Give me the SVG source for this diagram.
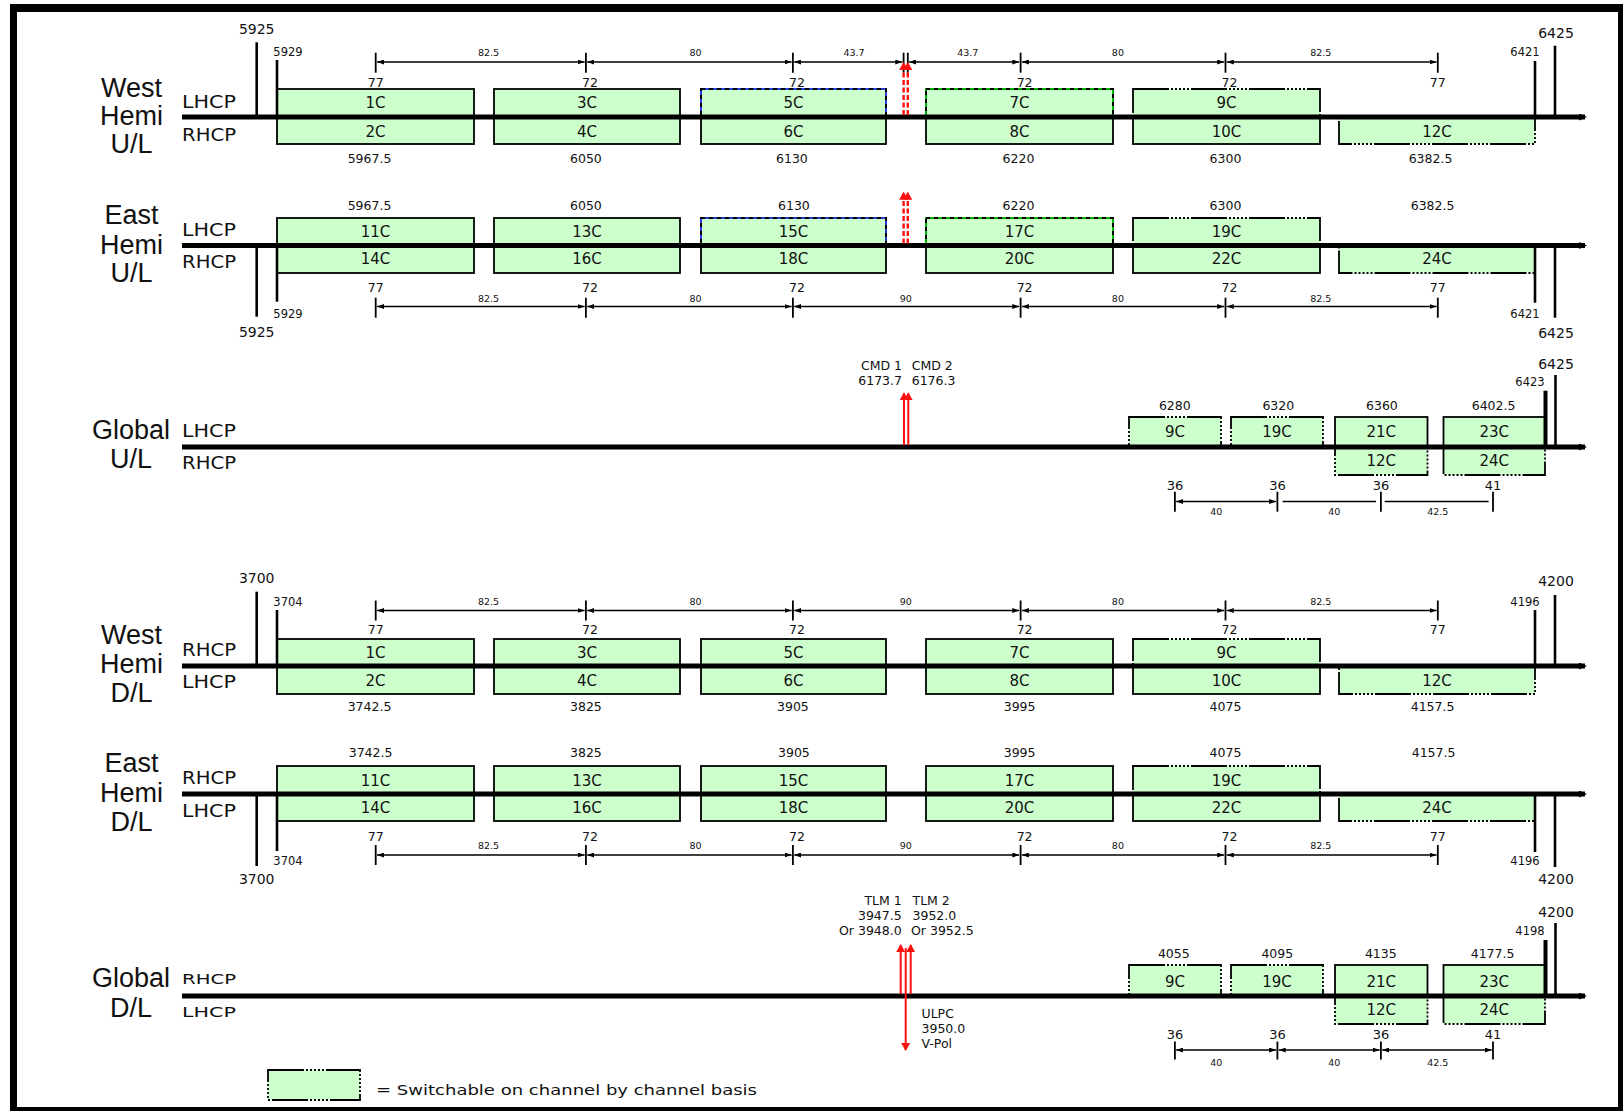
<svg xmlns="http://www.w3.org/2000/svg" width="1623" height="1111" viewBox="0 0 1623 1111">
<style>
.ch{fill:#ccffcc;stroke:#000;stroke-width:1.8}
.sw{fill:#ccffcc;stroke:#000;stroke-width:1.8;stroke-dasharray:36 2 2 2 2 2 2 2 2 2 2 2}
.bl{fill:#ccffcc;stroke:#2a3ad8;stroke-width:2}
.gn{fill:#ccffcc;stroke:#00b000;stroke-width:2}
.dsh{fill:none;stroke:#000;stroke-width:2;stroke-dasharray:4 4}
.axis{stroke:#000;stroke-width:5}
.tk{stroke:#000;stroke-width:2.6}
.tkb{stroke:#000;stroke-width:4}
.dim{stroke:#000;stroke-width:1.3}
.dt{stroke:#000;stroke-width:1.8}
.red{stroke:#ff1010;stroke-width:2}
.redd{stroke:#ff1010;stroke-width:2.4;stroke-dasharray:5 2.5}
text{font-family:"DejaVu Sans",Verdana,sans-serif;fill:#111;text-anchor:middle}
.big{font-family:"Liberation Sans",Arial,sans-serif;font-size:27px}
.pol{font-size:17px;text-anchor:start}
.pols{font-size:14px;text-anchor:start}
.cl{font-size:15px}
.fq{font-size:12.5px}
.n7{font-size:12.5px}
.dl{font-size:9.5px}
.e1{font-size:14px}
.e2{font-size:11.5px}
.g36{font-size:13px}
.cmd{font-size:12.5px}
.st{text-anchor:start}
.en{text-anchor:end}
</style>
<defs>
<marker id="ah" viewBox="0 0 7 5" refX="7" refY="2.5" markerWidth="7" markerHeight="5" markerUnits="userSpaceOnUse" orient="auto-start-reverse"><path d="M0,0 L7,2.5 L0,5 z" fill="#000"/></marker>
<marker id="ax" viewBox="0 0 8 7" refX="6" refY="3.5" markerWidth="8" markerHeight="7" markerUnits="userSpaceOnUse" orient="auto"><path d="M0,0 L8,3.5 L0,7 z" fill="#000"/></marker>
<marker id="ra" viewBox="0 0 8 9" refX="7" refY="4.5" markerWidth="8" markerHeight="9" markerUnits="userSpaceOnUse" orient="auto"><path d="M0,0 L8,4.5 L0,9 z" fill="#ff1010"/></marker>
</defs>
<rect x="0" y="0" width="1623" height="1111" fill="#fff"/>
<g id="frame">
<line x1="10" y1="8" x2="1623" y2="8" stroke="#000" stroke-width="8"/>
<line x1="13.5" y1="4" x2="13.5" y2="1111" stroke="#000" stroke-width="7"/>
<line x1="1620.5" y1="4" x2="1620.5" y2="1111" stroke="#000" stroke-width="5"/>
<line x1="10" y1="1109" x2="1623" y2="1109" stroke="#000" stroke-width="4"/>
</g>

<!-- ===== Section 1: West Hemi U/L ===== -->
<g id="sec-west-ul">
<text class="big" x="131.5" y="96.7">West</text>
<text class="big" x="131.5" y="124.7">Hemi</text>
<text class="big" x="131.5" y="152.5">U/L</text>
<text class="pol" x="182" y="108.4" textLength="54" lengthAdjust="spacingAndGlyphs">LHCP</text>
<text class="pol" x="182" y="140.5" textLength="54" lengthAdjust="spacingAndGlyphs">RHCP</text>
<g id="n-wul-1C"><rect class="ch" x="277" y="89" width="197" height="28"/><text class="cl" x="375.5" y="108.3">1C</text></g>
<g id="n-wul-2C"><rect class="ch" x="277" y="117" width="197" height="27"/><text class="cl" x="375.5" y="136.5">2C</text></g>
<g id="n-wul-3C"><rect class="ch" x="494" y="89" width="186" height="28"/><text class="cl" x="587" y="108.3">3C</text></g>
<g id="n-wul-4C"><rect class="ch" x="494" y="117" width="186" height="27"/><text class="cl" x="587" y="136.5">4C</text></g>
<g id="n-wul-5C"><rect class="bl" x="701" y="89" width="185" height="28"/><rect class="dsh" x="701" y="89" width="185" height="28"/><text class="cl" x="793.5" y="108.3">5C</text></g>
<g id="n-wul-6C"><rect class="ch" x="701" y="117" width="185" height="27"/><text class="cl" x="793.5" y="136.5">6C</text></g>
<g id="n-wul-7C"><rect class="gn" x="926" y="89" width="187" height="28"/><rect class="dsh" x="926" y="89" width="187" height="28"/><text class="cl" x="1019.5" y="108.3">7C</text></g>
<g id="n-wul-8C"><rect class="ch" x="926" y="117" width="187" height="27"/><text class="cl" x="1019.5" y="136.5">8C</text></g>
<g id="n-wul-9C"><rect class="sw" x="1133" y="89" width="187" height="28"/><text class="cl" x="1226.5" y="108.3">9C</text></g>
<g id="n-wul-10C"><rect class="ch" x="1133" y="117" width="187" height="27"/><text class="cl" x="1226.5" y="136.5">10C</text></g>
<g id="n-wul-12C"><rect class="sw" x="1339" y="117" width="196" height="27"/><text class="cl" x="1437" y="136.5">12C</text></g>
<text class="n7" x="375.7" y="86.5">77</text><text class="n7" x="590" y="86.5">72</text><text class="n7" x="797" y="86.5">72</text><text class="n7" x="1024.6" y="86.5">72</text><text class="n7" x="1229.5" y="86.5">72</text><text class="n7" x="1437.8" y="86.5">77</text>
<text class="fq" x="369.5" y="163">5967.5</text><text class="fq" x="585.9" y="163">6050</text><text class="fq" x="791.9" y="163">6130</text><text class="fq" x="1018.5" y="163">6220</text><text class="fq" x="1225.5" y="163">6300</text><text class="fq" x="1430.5" y="163">6382.5</text>
<text class="dl" x="488.6" y="56">82.5</text><text class="dl" x="695.6" y="56">80</text><text class="dl" x="854" y="56">43.7</text><text class="dl" x="967.8" y="56">43.7</text><text class="dl" x="1117.9" y="56">80</text><text class="dl" x="1320.8" y="56">82.5</text>
<text class="e1" x="256.7" y="34">5925</text><text class="e2" x="288" y="55.5">5929</text><text class="e2" x="1525" y="55.5">6421</text><text class="e1" x="1556" y="38">6425</text>
</g>

<!-- ===== Section 2: East Hemi U/L ===== -->
<g id="sec-east-ul">
<text class="big" x="131.5" y="223.7">East</text>
<text class="big" x="131.5" y="254">Hemi</text>
<text class="big" x="131.5" y="282">U/L</text>
<text class="pol" x="182" y="235.7" textLength="54" lengthAdjust="spacingAndGlyphs">LHCP</text>
<text class="pol" x="182" y="267.8" textLength="54" lengthAdjust="spacingAndGlyphs">RHCP</text>
<g id="n-eul-11C"><rect class="ch" x="277" y="218" width="197" height="27.5"/><text class="cl" x="375.5" y="236.8">11C</text></g>
<g id="n-eul-14C"><rect class="ch" x="277" y="245.5" width="197" height="27.5"/><text class="cl" x="375.5" y="264.3">14C</text></g>
<g id="n-eul-13C"><rect class="ch" x="494" y="218" width="186" height="27.5"/><text class="cl" x="587" y="236.8">13C</text></g>
<g id="n-eul-16C"><rect class="ch" x="494" y="245.5" width="186" height="27.5"/><text class="cl" x="587" y="264.3">16C</text></g>
<g id="n-eul-15C"><rect class="bl" x="701" y="218" width="185" height="27.5"/><rect class="dsh" x="701" y="218" width="185" height="27.5"/><text class="cl" x="793.5" y="236.8">15C</text></g>
<g id="n-eul-18C"><rect class="ch" x="701" y="245.5" width="185" height="27.5"/><text class="cl" x="793.5" y="264.3">18C</text></g>
<g id="n-eul-17C"><rect class="gn" x="926" y="218" width="187" height="27.5"/><rect class="dsh" x="926" y="218" width="187" height="27.5"/><text class="cl" x="1019.5" y="236.8">17C</text></g>
<g id="n-eul-20C"><rect class="ch" x="926" y="245.5" width="187" height="27.5"/><text class="cl" x="1019.5" y="264.3">20C</text></g>
<g id="n-eul-19C"><rect class="sw" x="1133" y="218" width="187" height="27.5"/><text class="cl" x="1226.5" y="236.8">19C</text></g>
<g id="n-eul-22C"><rect class="ch" x="1133" y="245.5" width="187" height="27.5"/><text class="cl" x="1226.5" y="264.3">22C</text></g>
<g id="n-eul-24C"><rect class="sw" x="1339" y="245.5" width="196" height="27.5"/><text class="cl" x="1437" y="264.3">24C</text></g>
<text class="fq" x="369.5" y="210">5967.5</text><text class="fq" x="585.9" y="210">6050</text><text class="fq" x="793.9" y="210">6130</text><text class="fq" x="1018.5" y="210">6220</text><text class="fq" x="1225.5" y="210">6300</text><text class="fq" x="1432.6" y="210">6382.5</text>
<text class="n7" x="375.7" y="291.5">77</text><text class="n7" x="590" y="291.5">72</text><text class="n7" x="797" y="291.5">72</text><text class="n7" x="1024.6" y="291.5">72</text><text class="n7" x="1229.5" y="291.5">72</text><text class="n7" x="1437.8" y="291.5">77</text>
<text class="dl" x="488.6" y="301.5">82.5</text><text class="dl" x="695.6" y="301.5">80</text><text class="dl" x="905.7" y="301.5">90</text><text class="dl" x="1117.9" y="301.5">80</text><text class="dl" x="1320.8" y="301.5">82.5</text>
<text class="e2" x="288" y="318">5929</text><text class="e1" x="256.7" y="337">5925</text><text class="e2" x="1525" y="318">6421</text><text class="e1" x="1556" y="337.5">6425</text>
</g>

<!-- ===== Section 3: Global U/L ===== -->
<g id="sec-global-ul">
<text class="big" x="131" y="439.3">Global</text>
<text class="big" x="131" y="468.3">U/L</text>
<text class="pol" x="182" y="436.5" textLength="54" lengthAdjust="spacingAndGlyphs">LHCP</text>
<text class="pol" x="182" y="468.6" textLength="54" lengthAdjust="spacingAndGlyphs">RHCP</text>
<g id="n-gul-9C"><rect class="sw" x="1129" y="417" width="92" height="30"/><text class="cl" x="1175" y="437">9C</text></g>
<g id="n-gul-19C"><rect class="sw" x="1231" y="417" width="92" height="30"/><text class="cl" x="1277" y="437">19C</text></g>
<g id="n-gul-21C"><rect class="ch" x="1335" y="417" width="92.5" height="30"/><text class="cl" x="1381.2" y="437">21C</text></g>
<g id="n-gul-12C"><rect class="sw" x="1335" y="447" width="92.5" height="28"/><text class="cl" x="1381.2" y="465.5">12C</text></g>
<g id="n-gul-23C"><rect class="ch" x="1443.5" y="417" width="101.5" height="30"/><text class="cl" x="1494.2" y="437">23C</text></g>
<g id="n-gul-24C"><rect class="sw" x="1443.5" y="447" width="101.5" height="28"/><text class="cl" x="1494.2" y="465.5">24C</text></g>
<text class="fq" x="1174.8" y="410">6280</text><text class="fq" x="1278.3" y="410">6320</text><text class="fq" x="1381.9" y="410">6360</text><text class="fq" x="1493.6" y="410">6402.5</text>
<text class="g36" x="1174.9" y="490">36</text><text class="g36" x="1277.4" y="490">36</text><text class="g36" x="1380.9" y="490">36</text><text class="g36" x="1493" y="490">41</text>
<text class="dl" x="1216.2" y="515">40</text><text class="dl" x="1334.2" y="515">40</text><text class="dl" x="1437.8" y="515">42.5</text>
<text class="e1" x="1556" y="369">6425</text><text class="e2" x="1530" y="385.5">6423</text>
<text class="cmd en" x="902" y="370">CMD 1</text><text class="cmd st" x="911.7" y="370">CMD 2</text>
<text class="cmd en" x="902" y="385">6173.7</text><text class="cmd st" x="911.7" y="385">6176.3</text>
</g>

<!-- ===== Section 4: West Hemi D/L ===== -->
<g id="sec-west-dl">
<text class="big" x="131.5" y="644.2">West</text>
<text class="big" x="131.5" y="673.2">Hemi</text>
<text class="big" x="131.5" y="702.2">D/L</text>
<text class="pol" x="182" y="656" textLength="54" lengthAdjust="spacingAndGlyphs">RHCP</text>
<text class="pol" x="182" y="688" textLength="54" lengthAdjust="spacingAndGlyphs">LHCP</text>
<g id="n-wdl-1C"><rect class="ch" x="277" y="639" width="197" height="27"/><text class="cl" x="375.5" y="658">1C</text></g>
<g id="n-wdl-2C"><rect class="ch" x="277" y="666" width="197" height="28"/><text class="cl" x="375.5" y="685.5">2C</text></g>
<g id="n-wdl-3C"><rect class="ch" x="494" y="639" width="186" height="27"/><text class="cl" x="587" y="658">3C</text></g>
<g id="n-wdl-4C"><rect class="ch" x="494" y="666" width="186" height="28"/><text class="cl" x="587" y="685.5">4C</text></g>
<g id="n-wdl-5C"><rect class="ch" x="701" y="639" width="185" height="27"/><text class="cl" x="793.5" y="658">5C</text></g>
<g id="n-wdl-6C"><rect class="ch" x="701" y="666" width="185" height="28"/><text class="cl" x="793.5" y="685.5">6C</text></g>
<g id="n-wdl-7C"><rect class="ch" x="926" y="639" width="187" height="27"/><text class="cl" x="1019.5" y="658">7C</text></g>
<g id="n-wdl-8C"><rect class="ch" x="926" y="666" width="187" height="28"/><text class="cl" x="1019.5" y="685.5">8C</text></g>
<g id="n-wdl-9C"><rect class="sw" x="1133" y="639" width="187" height="27"/><text class="cl" x="1226.5" y="658">9C</text></g>
<g id="n-wdl-10C"><rect class="ch" x="1133" y="666" width="187" height="28"/><text class="cl" x="1226.5" y="685.5">10C</text></g>
<g id="n-wdl-12C"><rect class="sw" x="1339" y="666" width="196" height="28"/><text class="cl" x="1437" y="685.5">12C</text></g>
<text class="n7" x="375.7" y="634">77</text><text class="n7" x="590" y="634">72</text><text class="n7" x="797" y="634">72</text><text class="n7" x="1024.6" y="634">72</text><text class="n7" x="1229.5" y="634">72</text><text class="n7" x="1437.8" y="634">77</text>
<text class="fq" x="369.5" y="710.5">3742.5</text><text class="fq" x="585.9" y="710.5">3825</text><text class="fq" x="792.9" y="710.5">3905</text><text class="fq" x="1019.6" y="710.5">3995</text><text class="fq" x="1225.5" y="710.5">4075</text><text class="fq" x="1432.6" y="710.5">4157.5</text>
<text class="dl" x="488.6" y="605">82.5</text><text class="dl" x="695.6" y="605">80</text><text class="dl" x="905.7" y="605">90</text><text class="dl" x="1117.9" y="605">80</text><text class="dl" x="1320.8" y="605">82.5</text>
<text class="e1" x="256.7" y="582.5">3700</text><text class="e2" x="288" y="606">3704</text><text class="e2" x="1525" y="606">4196</text><text class="e1" x="1556" y="586">4200</text>
</g>

<!-- ===== Section 5: East Hemi D/L ===== -->
<g id="sec-east-dl">
<text class="big" x="131.5" y="771.5">East</text>
<text class="big" x="131.5" y="801.6">Hemi</text>
<text class="big" x="131.5" y="830.5">D/L</text>
<text class="pol" x="182" y="784.3" textLength="54" lengthAdjust="spacingAndGlyphs">RHCP</text>
<text class="pol" x="182" y="817.4" textLength="54" lengthAdjust="spacingAndGlyphs">LHCP</text>
<g id="n-edl-11C"><rect class="ch" x="277" y="766" width="197" height="28"/><text class="cl" x="375.5" y="785.5">11C</text></g>
<g id="n-edl-14C"><rect class="ch" x="277" y="794" width="197" height="27"/><text class="cl" x="375.5" y="813">14C</text></g>
<g id="n-edl-13C"><rect class="ch" x="494" y="766" width="186" height="28"/><text class="cl" x="587" y="785.5">13C</text></g>
<g id="n-edl-16C"><rect class="ch" x="494" y="794" width="186" height="27"/><text class="cl" x="587" y="813">16C</text></g>
<g id="n-edl-15C"><rect class="ch" x="701" y="766" width="185" height="28"/><text class="cl" x="793.5" y="785.5">15C</text></g>
<g id="n-edl-18C"><rect class="ch" x="701" y="794" width="185" height="27"/><text class="cl" x="793.5" y="813">18C</text></g>
<g id="n-edl-17C"><rect class="ch" x="926" y="766" width="187" height="28"/><text class="cl" x="1019.5" y="785.5">17C</text></g>
<g id="n-edl-20C"><rect class="ch" x="926" y="794" width="187" height="27"/><text class="cl" x="1019.5" y="813">20C</text></g>
<g id="n-edl-19C"><rect class="sw" x="1133" y="766" width="187" height="28"/><text class="cl" x="1226.5" y="785.5">19C</text></g>
<g id="n-edl-22C"><rect class="ch" x="1133" y="794" width="187" height="27"/><text class="cl" x="1226.5" y="813">22C</text></g>
<g id="n-edl-24C"><rect class="sw" x="1339" y="794" width="196" height="27"/><text class="cl" x="1437" y="813">24C</text></g>
<text class="fq" x="370.6" y="757">3742.5</text><text class="fq" x="585.9" y="757">3825</text><text class="fq" x="793.9" y="757">3905</text><text class="fq" x="1019.6" y="757">3995</text><text class="fq" x="1225.5" y="757">4075</text><text class="fq" x="1433.6" y="757">4157.5</text>
<text class="n7" x="375.7" y="841">77</text><text class="n7" x="590" y="841">72</text><text class="n7" x="797" y="841">72</text><text class="n7" x="1024.6" y="841">72</text><text class="n7" x="1229.5" y="841">72</text><text class="n7" x="1437.8" y="841">77</text>
<text class="dl" x="488.6" y="848.5">82.5</text><text class="dl" x="695.6" y="848.5">80</text><text class="dl" x="905.7" y="848.5">90</text><text class="dl" x="1117.9" y="848.5">80</text><text class="dl" x="1320.8" y="848.5">82.5</text>
<text class="e2" x="288" y="865">3704</text><text class="e2" x="1525" y="865">4196</text><text class="e1" x="256.7" y="884">3700</text><text class="e1" x="1556" y="884">4200</text>
</g>

<!-- ===== Section 6: Global D/L ===== -->
<g id="sec-global-dl">
<text class="big" x="131" y="986.9">Global</text>
<text class="big" x="131" y="1016.9">D/L</text>
<text class="pols" x="182" y="984.2" textLength="54" lengthAdjust="spacingAndGlyphs">RHCP</text>
<text class="pols" x="182" y="1017.3" textLength="54" lengthAdjust="spacingAndGlyphs">LHCP</text>
<g id="n-gdl-9C"><rect class="sw" x="1129" y="965" width="92" height="31"/><text class="cl" x="1175" y="986.5">9C</text></g>
<g id="n-gdl-19C"><rect class="sw" x="1231" y="965" width="92" height="31"/><text class="cl" x="1277" y="986.5">19C</text></g>
<g id="n-gdl-21C"><rect class="ch" x="1335" y="965" width="92.5" height="31"/><text class="cl" x="1381.2" y="986.5">21C</text></g>
<g id="n-gdl-12C"><rect class="sw" x="1335" y="996" width="92.5" height="28"/><text class="cl" x="1381.2" y="1015">12C</text></g>
<g id="n-gdl-23C"><rect class="ch" x="1443.5" y="965" width="101.5" height="31"/><text class="cl" x="1494.2" y="986.5">23C</text></g>
<g id="n-gdl-24C"><rect class="sw" x="1443.5" y="996" width="101.5" height="28"/><text class="cl" x="1494.2" y="1015">24C</text></g>
<text class="fq" x="1173.8" y="957.5">4055</text><text class="fq" x="1277.3" y="957.5">4095</text><text class="fq" x="1380.8" y="957.5">4135</text><text class="fq" x="1492.6" y="957.5">4177.5</text>
<text class="g36" x="1174.9" y="1039">36</text><text class="g36" x="1277.4" y="1039">36</text><text class="g36" x="1380.9" y="1039">36</text><text class="g36" x="1493" y="1039">41</text>
<text class="dl" x="1216.2" y="1066">40</text><text class="dl" x="1334.2" y="1066">40</text><text class="dl" x="1437.8" y="1066">42.5</text>
<text class="e1" x="1556" y="917">4200</text><text class="e2" x="1530" y="934.5">4198</text>
<text class="cmd en" x="901.7" y="905">TLM 1</text><text class="cmd st" x="912.5" y="905">TLM 2</text>
<text class="cmd en" x="901.7" y="920">3947.5</text><text class="cmd st" x="912.5" y="920">3952.0</text>
<text class="cmd en" x="901.7" y="935">Or 3948.0</text><text class="cmd st" x="911" y="935">Or 3952.5</text>
<text class="cmd st" x="921.5" y="1018">ULPC</text>
<text class="cmd st" x="921.5" y="1033">3950.0</text>
<text class="cmd st" x="921.5" y="1048">V-Pol</text>
</g>

<!-- ===== Legend ===== -->
<g id="legend">
<rect class="sw" x="268" y="1070" width="92" height="30"/>
<text class="st" x="376" y="1095" style="font-size:14.5px" textLength="381" lengthAdjust="spacingAndGlyphs">= Switchable on channel by channel basis</text>
</g>

<!-- ===== Connectors: axes, band-edge ticks, dimension lines, arrows ===== -->
<g id="connectors">
<line class="axis" x1="182" y1="117" x2="1585" y2="117" marker-end="url(#ax)"/>
<line class="axis" x1="182" y1="245.5" x2="1585" y2="245.5" marker-end="url(#ax)"/>
<line class="axis" x1="182" y1="447" x2="1585" y2="447" marker-end="url(#ax)"/>
<line class="axis" x1="182" y1="666" x2="1585" y2="666" marker-end="url(#ax)"/>
<line class="axis" x1="182" y1="794" x2="1585" y2="794" marker-end="url(#ax)"/>
<line class="axis" x1="182" y1="996" x2="1585" y2="996" marker-end="url(#ax)"/>
<line class="tk" x1="256.7" y1="42.3" x2="256.7" y2="117"/>
<line class="tk" x1="277" y1="60" x2="277" y2="117"/>
<line class="tk" x1="1535" y1="61" x2="1535" y2="117"/>
<line class="tk" x1="1555" y1="45.7" x2="1555" y2="117"/>
<line class="tk" x1="256.7" y1="245.5" x2="256.7" y2="316.7"/>
<line class="tk" x1="277" y1="245.5" x2="277" y2="301.7"/>
<line class="tk" x1="1535" y1="245.5" x2="1535" y2="302.7"/>
<line class="tk" x1="1555" y1="245.5" x2="1555" y2="317.7"/>
<line class="tkb" x1="1545.5" y1="390.7" x2="1545.5" y2="447"/>
<line class="tk" x1="1555.5" y1="375" x2="1555.5" y2="447"/>
<line class="tk" x1="256.7" y1="591.7" x2="256.7" y2="666"/>
<line class="tk" x1="277" y1="610" x2="277" y2="666"/>
<line class="tk" x1="1535" y1="610" x2="1535" y2="666"/>
<line class="tk" x1="1555" y1="595" x2="1555" y2="666"/>
<line class="tk" x1="256.7" y1="794" x2="256.7" y2="866"/>
<line class="tk" x1="277" y1="794" x2="277" y2="851"/>
<line class="tk" x1="1535" y1="794" x2="1535" y2="852"/>
<line class="tk" x1="1555" y1="794" x2="1555" y2="867"/>
<line class="tkb" x1="1545.5" y1="940" x2="1545.5" y2="996"/>
<line class="tk" x1="1555.5" y1="923" x2="1555.5" y2="996"/>
<g>
<line class="dt" x1="375.7" y1="52.7" x2="375.7" y2="72.7"/><line class="dt" x1="585.9" y1="52.7" x2="585.9" y2="72.7"/><line class="dt" x1="792.9" y1="52.7" x2="792.9" y2="72.7"/><line class="dt" x1="903.6" y1="52.7" x2="903.6" y2="72.7"/><line class="dt" x1="907.8" y1="52.7" x2="907.8" y2="72.7"/><line class="dt" x1="1020.6" y1="52.7" x2="1020.6" y2="72.7"/><line class="dt" x1="1225.5" y1="52.7" x2="1225.5" y2="72.7"/><line class="dt" x1="1437.8" y1="52.7" x2="1437.8" y2="72.7"/>
<line class="dim" x1="377" y1="62" x2="584.6" y2="62" marker-start="url(#ah)" marker-end="url(#ah)"/>
<line class="dim" x1="587.2" y1="62" x2="791.6" y2="62" marker-start="url(#ah)" marker-end="url(#ah)"/>
<line class="dim" x1="794.2" y1="62" x2="902.3" y2="62" marker-start="url(#ah)" marker-end="url(#ah)"/>
<line class="dim" x1="909.1" y1="62" x2="1019.3" y2="62" marker-start="url(#ah)" marker-end="url(#ah)"/>
<line class="dim" x1="1021.9" y1="62" x2="1224.2" y2="62" marker-start="url(#ah)" marker-end="url(#ah)"/>
<line class="dim" x1="1226.8" y1="62" x2="1436.5" y2="62" marker-start="url(#ah)" marker-end="url(#ah)"/>
</g>
<g>
<line class="dt" x1="375.7" y1="297.7" x2="375.7" y2="317.7"/><line class="dt" x1="585.9" y1="297.7" x2="585.9" y2="317.7"/><line class="dt" x1="792.9" y1="297.7" x2="792.9" y2="317.7"/><line class="dt" x1="1020.6" y1="297.7" x2="1020.6" y2="317.7"/><line class="dt" x1="1225.5" y1="297.7" x2="1225.5" y2="317.7"/><line class="dt" x1="1437.8" y1="297.7" x2="1437.8" y2="317.7"/>
<line class="dim" x1="377" y1="306.5" x2="584.6" y2="306.5" marker-start="url(#ah)" marker-end="url(#ah)"/>
<line class="dim" x1="587.2" y1="306.5" x2="791.6" y2="306.5" marker-start="url(#ah)" marker-end="url(#ah)"/>
<line class="dim" x1="794.2" y1="306.5" x2="1019.3" y2="306.5" marker-start="url(#ah)" marker-end="url(#ah)"/>
<line class="dim" x1="1021.9" y1="306.5" x2="1224.2" y2="306.5" marker-start="url(#ah)" marker-end="url(#ah)"/>
<line class="dim" x1="1226.8" y1="306.5" x2="1436.5" y2="306.5" marker-start="url(#ah)" marker-end="url(#ah)"/>
</g>
<g>
<line class="dt" x1="375.7" y1="600.5" x2="375.7" y2="620.5"/><line class="dt" x1="585.9" y1="600.5" x2="585.9" y2="620.5"/><line class="dt" x1="792.9" y1="600.5" x2="792.9" y2="620.5"/><line class="dt" x1="1020.6" y1="600.5" x2="1020.6" y2="620.5"/><line class="dt" x1="1225.5" y1="600.5" x2="1225.5" y2="620.5"/><line class="dt" x1="1437.8" y1="600.5" x2="1437.8" y2="620.5"/>
<line class="dim" x1="377" y1="610.5" x2="584.6" y2="610.5" marker-start="url(#ah)" marker-end="url(#ah)"/>
<line class="dim" x1="587.2" y1="610.5" x2="791.6" y2="610.5" marker-start="url(#ah)" marker-end="url(#ah)"/>
<line class="dim" x1="794.2" y1="610.5" x2="1019.3" y2="610.5" marker-start="url(#ah)" marker-end="url(#ah)"/>
<line class="dim" x1="1021.9" y1="610.5" x2="1224.2" y2="610.5" marker-start="url(#ah)" marker-end="url(#ah)"/>
<line class="dim" x1="1226.8" y1="610.5" x2="1436.5" y2="610.5" marker-start="url(#ah)" marker-end="url(#ah)"/>
</g>
<g>
<line class="dt" x1="375.7" y1="845" x2="375.7" y2="865"/><line class="dt" x1="585.9" y1="845" x2="585.9" y2="865"/><line class="dt" x1="792.9" y1="845" x2="792.9" y2="865"/><line class="dt" x1="1020.6" y1="845" x2="1020.6" y2="865"/><line class="dt" x1="1225.5" y1="845" x2="1225.5" y2="865"/><line class="dt" x1="1437.8" y1="845" x2="1437.8" y2="865"/>
<line class="dim" x1="377" y1="855" x2="584.6" y2="855" marker-start="url(#ah)" marker-end="url(#ah)"/>
<line class="dim" x1="587.2" y1="855" x2="791.6" y2="855" marker-start="url(#ah)" marker-end="url(#ah)"/>
<line class="dim" x1="794.2" y1="855" x2="1019.3" y2="855" marker-start="url(#ah)" marker-end="url(#ah)"/>
<line class="dim" x1="1021.9" y1="855" x2="1224.2" y2="855" marker-start="url(#ah)" marker-end="url(#ah)"/>
<line class="dim" x1="1226.8" y1="855" x2="1436.5" y2="855" marker-start="url(#ah)" marker-end="url(#ah)"/>
</g>
<g>
<line class="dt" x1="1174.9" y1="491.7" x2="1174.9" y2="511.7"/><line class="dt" x1="1277.4" y1="491.7" x2="1277.4" y2="511.7"/><line class="dt" x1="1380.9" y1="491.7" x2="1380.9" y2="511.7"/><line class="dt" x1="1493" y1="491.7" x2="1493" y2="511.7"/>
<line class="dim" x1="1176.2" y1="501.5" x2="1276.1" y2="501.5" marker-start="url(#ah)" marker-end="url(#ah)"/>
<line class="dim" x1="1282.6" y1="501.5" x2="1376" y2="501.5"/>
<line class="dim" x1="1384.7" y1="501.5" x2="1488.6" y2="501.5"/>
</g>
<g>
<line class="dt" x1="1174.9" y1="1041.5" x2="1174.9" y2="1059.5"/><line class="dt" x1="1277.4" y1="1041.5" x2="1277.4" y2="1059.5"/><line class="dt" x1="1380.9" y1="1041.5" x2="1380.9" y2="1059.5"/><line class="dt" x1="1493" y1="1041.5" x2="1493" y2="1059.5"/>
<line class="dim" x1="1176.2" y1="1050" x2="1276.1" y2="1050" marker-start="url(#ah)" marker-end="url(#ah)"/>
<line class="dim" x1="1278.7" y1="1050" x2="1379.6" y2="1050" marker-start="url(#ah)" marker-end="url(#ah)"/>
<line class="dim" x1="1382.2" y1="1050" x2="1491.7" y2="1050" marker-start="url(#ah)" marker-end="url(#ah)"/>
</g>
<line class="redd" x1="903.6" y1="115" x2="903.6" y2="63" marker-end="url(#ra)"/>
<line class="redd" x1="907.8" y1="115" x2="907.8" y2="63" marker-end="url(#ra)"/>
<line class="redd" x1="903.6" y1="243.5" x2="903.6" y2="192.7" marker-end="url(#ra)"/>
<line class="redd" x1="907.8" y1="243.5" x2="907.8" y2="192.7" marker-end="url(#ra)"/>
<line class="red" x1="904" y1="445" x2="904" y2="393.3" marker-end="url(#ra)"/>
<line class="red" x1="908.3" y1="445" x2="908.3" y2="393.3" marker-end="url(#ra)"/>
<line class="red" x1="900.7" y1="994" x2="900.7" y2="945" marker-end="url(#ra)"/>
<line class="red" x1="910.7" y1="994" x2="910.7" y2="945" marker-end="url(#ra)"/>
<line class="red" x1="905.7" y1="948" x2="905.7" y2="1050" marker-end="url(#ra)"/>
</g>
</svg>
